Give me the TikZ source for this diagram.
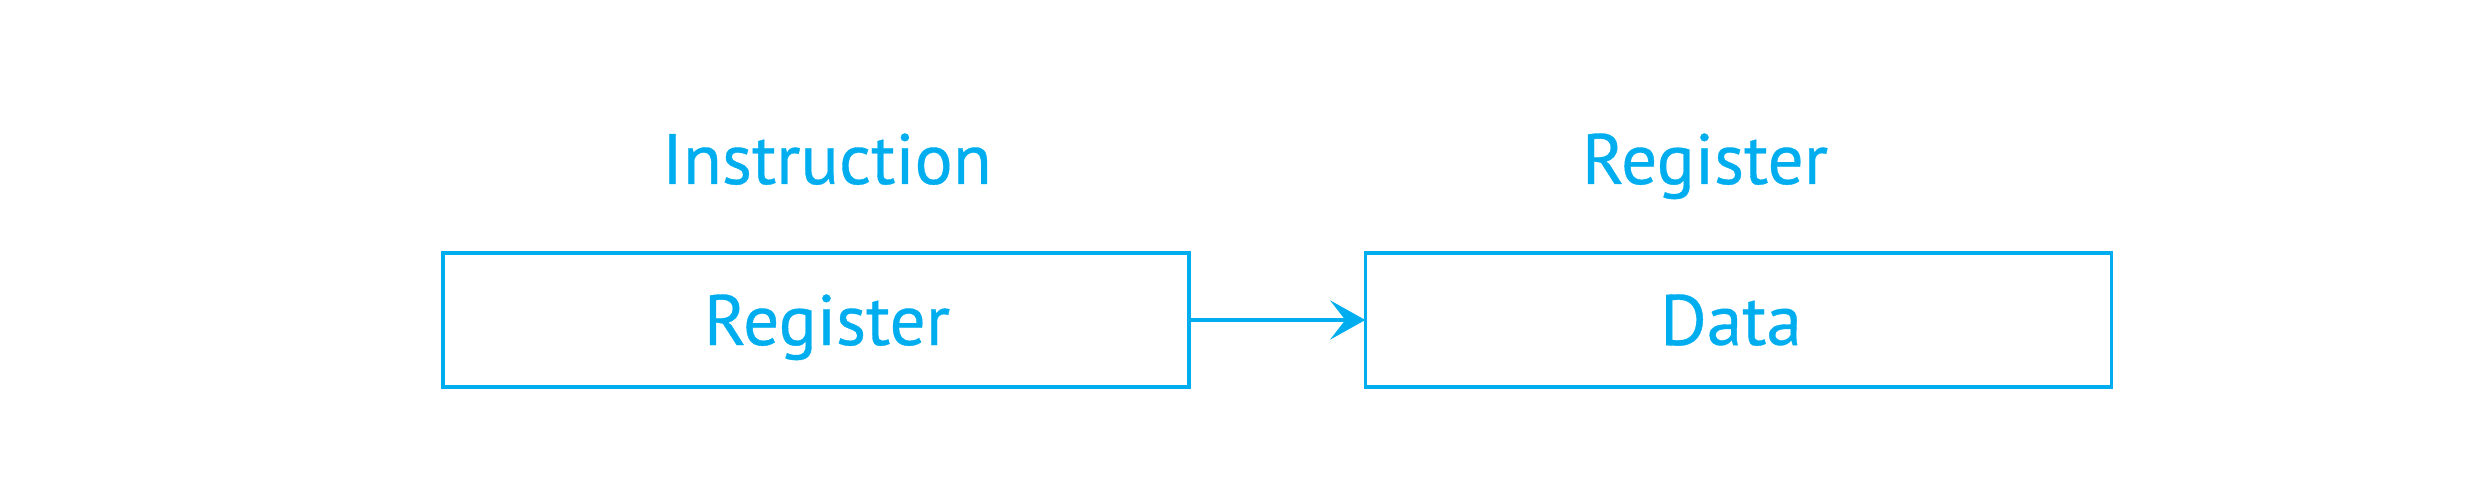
\documentclass[tikz,border=0pt]{standalone}
\usepackage{fontspec}
\setmainfont{PT Sans}
\newfontfamily\lblfont{PT Sans}[FakeBold=0.5]
\usetikzlibrary{arrows.meta}
\definecolor{cyanblue}{HTML}{00AEEF}
\begin{document}
\begin{tikzpicture}[x=0.01cm,y=-0.01cm,
  box/.style={draw=cyanblue, line width=1pt, minimum width=7.46cm, minimum height=1.34cm, inner sep=0pt, outer sep=0pt},
  txt/.style={text=cyanblue, font=\lblfont\fontsize{20.3}{24}\selectfont, anchor=base, inner sep=0pt},
  conn/.style={draw=cyanblue, line width=1.15pt, -{Stealth[length=0.35cm, width=0.39cm, inset=0.15cm]}}]
\useasboundingbox (0,0) rectangle (2481,482);
\node[box] (b1) at (816,320) {};
\node[box] (b2) at (1738.5,320) {};
\node[txt] (t1) at (827,184) {Instruction};
\node[txt] (t2) at (1705,184) {Register};
\node[txt] (r1) at (827,345) {Register};
\node[txt] (d1) at (1731,345) {Data};
\draw[conn] (b1.east) -- (b2.west);
\end{tikzpicture}
\end{document}
